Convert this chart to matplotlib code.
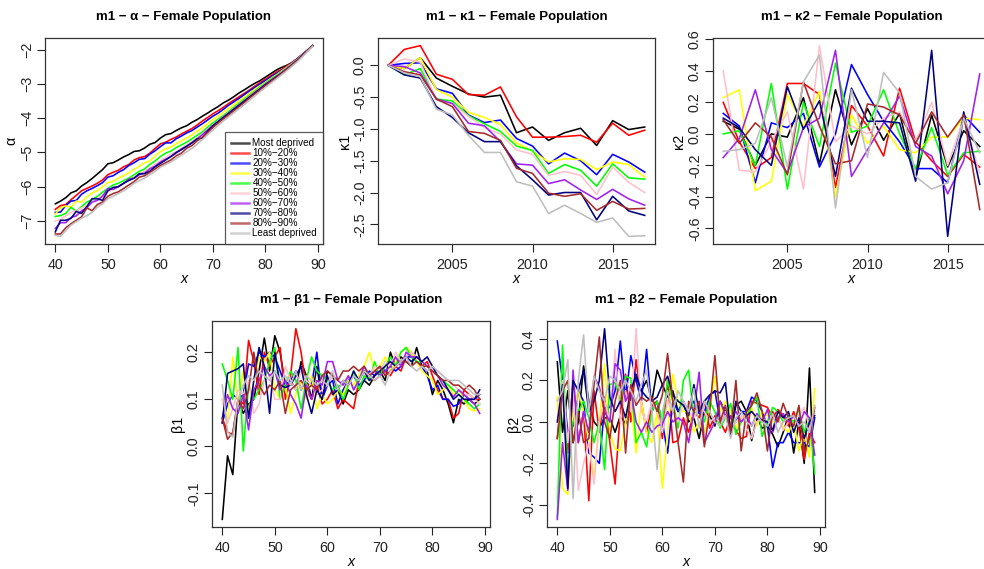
import matplotlib
matplotlib.use("Agg")
import matplotlib.pyplot as plt
from matplotlib.ticker import FormatStrFormatter
from matplotlib.lines import Line2D

plt.rcParams["font.family"] = ["Liberation Sans", "DejaVu Sans"]
plt.rcParams["axes.unicode_minus"] = True

# dati
eta = list(range(40, 90))
anni = list(range(2001, 2018))

gruppi = ["Most deprived", "10%−20%", "20%−30%", "30%−40%", "40%−50%",
          "50%−60%", "60%−70%", "70%−80%", "80%−90%", "Least deprived"]
colori = ["black", "#FF0000", "#0000FF", "#FFFF00", "#00FF00",
          "#FFC0CB", "#A020F0", "#000080", "#A52A2A", "#BEBEBE"]

alpha_most = [-6.50, -6.42, -6.32, -6.18, -6.12, -5.98, -5.88, -5.76, -5.63, -5.50,
              -5.33, -5.30, -5.22, -5.13, -5.06, -4.97, -4.95, -4.87, -4.76, -4.71,
              -4.58, -4.48, -4.45, -4.36, -4.28, -4.22, -4.12, -4.04, -3.94, -3.85,
              -3.75, -3.66, -3.55, -3.47, -3.37, -3.26, -3.17, -3.07, -2.98, -2.90,
              -2.80, -2.70, -2.60, -2.52, -2.46, -2.38, -2.27, -2.14, -2.01, -1.88]
alpha_10 = [-6.66, -6.55, -6.52, -6.38, -6.25, -6.12, -6.05, -5.98, -5.90, -5.80,
            -5.65, -5.58, -5.52, -5.42, -5.35, -5.22, -5.15, -5.12, -5.02, -4.88,
            -4.75, -4.70, -4.62, -4.55, -4.46, -4.38, -4.30, -4.20, -4.08, -3.98,
            -3.87, -3.78, -3.68, -3.57, -3.47, -3.37, -3.27, -3.17, -3.06, -2.96,
            -2.86, -2.76, -2.66, -2.58, -2.48, -2.38, -2.27, -2.14, -2.01, -1.88]
alpha_20 = [-6.75, -6.74, -6.55, -6.42, -6.40, -6.22, -6.12, -6.05, -5.97, -5.88,
            -5.72, -5.68, -5.58, -5.50, -5.38, -5.30, -5.20, -5.18, -5.05, -4.95,
            -4.83, -4.72, -4.72, -4.60, -4.52, -4.43, -4.36, -4.26, -4.16, -4.05,
            -3.94, -3.85, -3.74, -3.62, -3.52, -3.42, -3.31, -3.20, -3.10, -3.00,
            -2.90, -2.80, -2.70, -2.61, -2.51, -2.40, -2.28, -2.15, -2.02, -1.88]
alpha_30 = [-6.80, -6.62, -6.56, -6.60, -6.42, -6.45, -6.30, -6.18, -6.12, -6.00,
            -5.88, -5.85, -5.75, -5.68, -5.60, -5.50, -5.40, -5.30, -5.25, -5.10,
            -4.98, -4.90, -4.84, -4.75, -4.66, -4.58, -4.49, -4.38, -4.28, -4.16,
            -4.04, -3.94, -3.82, -3.71, -3.60, -3.49, -3.38, -3.27, -3.15, -3.05,
            -2.95, -2.84, -2.74, -2.63, -2.52, -2.41, -2.29, -2.16, -2.02, -1.88]
alpha_40 = [-6.87, -6.84, -6.78, -6.60, -6.72, -6.58, -6.45, -6.38, -6.28, -6.16,
            -6.05, -5.95, -5.90, -5.82, -5.75, -5.65, -5.55, -5.48, -5.35, -5.25,
            -5.12, -5.02, -4.96, -4.86, -4.78, -4.70, -4.60, -4.50, -4.40, -4.26,
            -4.14, -4.03, -3.92, -3.80, -3.68, -3.56, -3.44, -3.32, -3.20, -3.08,
            -2.97, -2.86, -2.76, -2.65, -2.54, -2.42, -2.30, -2.17, -2.02, -1.88]
alpha_50 = [-7.00, -6.95, -6.85, -6.75, -6.70, -6.62, -6.55, -6.45, -6.35, -6.25,
            -6.14, -6.08, -5.98, -5.92, -5.80, -5.72, -5.62, -5.55, -5.45, -5.35,
            -5.25, -5.15, -5.05, -4.98, -4.88, -4.78, -4.68, -4.58, -4.46, -4.32,
            -4.20, -4.08, -3.96, -3.84, -3.72, -3.60, -3.48, -3.35, -3.23, -3.11,
            -3.00, -2.89, -2.78, -2.67, -2.55, -2.43, -2.31, -2.17, -2.03, -1.88]
alpha_60 = [-7.22, -7.05, -7.05, -6.90, -6.85, -6.70, -6.62, -6.45, -6.40, -6.28,
            -6.05, -6.08, -6.00, -5.90, -5.78, -5.75, -5.65, -5.60, -5.48, -5.40,
            -5.28, -5.20, -5.12, -5.02, -4.90, -4.82, -4.72, -4.60, -4.48, -4.34,
            -4.21, -4.09, -3.97, -3.85, -3.73, -3.61, -3.49, -3.37, -3.25, -3.13,
            -3.01, -2.90, -2.79, -2.68, -2.56, -2.44, -2.31, -2.17, -2.03, -1.88]
alpha_70 = [-7.32, -6.98, -6.98, -6.92, -6.72, -6.78, -6.58, -6.35, -6.35, -6.40,
            -6.12, -6.02, -6.00, -5.90, -5.82, -5.75, -5.62, -5.62, -5.55, -5.42,
            -5.32, -5.22, -5.12, -5.00, -4.92, -4.82, -4.72, -4.60, -4.58, -4.38,
            -4.22, -4.10, -3.98, -3.86, -3.74, -3.62, -3.50, -3.38, -3.26, -3.14,
            -3.02, -2.91, -2.80, -2.69, -2.57, -2.45, -2.32, -2.18, -2.03, -1.88]
alpha_80 = [-7.38, -7.38, -7.20, -7.08, -6.98, -6.88, -6.62, -6.70, -6.52, -6.45,
            -6.28, -6.20, -6.15, -6.05, -5.95, -5.85, -5.72, -5.68, -5.58, -5.48,
            -5.38, -5.30, -5.22, -5.10, -5.02, -4.88, -4.80, -4.66, -4.55, -4.42,
            -4.27, -4.14, -4.02, -3.90, -3.78, -3.66, -3.54, -3.41, -3.29, -3.17,
            -3.05, -2.93, -2.82, -2.70, -2.58, -2.46, -2.33, -2.19, -2.04, -1.88]
alpha_least = [-7.42, -7.45, -7.28, -7.12, -7.02, -6.92, -6.85, -6.75, -6.60, -6.50,
               -6.35, -6.28, -6.20, -6.12, -6.02, -5.90, -5.82, -5.75, -5.65, -5.55,
               -5.43, -5.35, -5.28, -5.18, -5.08, -4.98, -4.88, -4.76, -4.62, -4.48,
               -4.34, -4.21, -4.08, -3.96, -3.84, -3.72, -3.60, -3.47, -3.35, -3.22,
               -3.10, -2.98, -2.86, -2.74, -2.62, -2.49, -2.36, -2.21, -2.05, -1.90]

kappa1_most = [0.0, -0.05, 0.12, -0.20, -0.33, -0.45, -0.50, -0.47, -1.06, -0.97,
               -1.18, -1.06, -0.99, -1.26, -0.87, -1.01, -0.97]
kappa1_10 = [0.0, 0.25, 0.31, -0.14, -0.22, -0.46, -0.47, -0.34, -0.81, -1.13,
             -1.13, -1.12, -1.10, -1.21, -0.91, -1.10, -1.02]
kappa1_20 = [0.0, 0.03, 0.04, -0.37, -0.44, -0.78, -0.90, -0.86, -1.15, -1.27,
             -1.55, -1.38, -1.50, -1.72, -1.40, -1.52, -1.68]
kappa1_30 = [0.0, -0.05, 0.12, -0.38, -0.50, -0.74, -0.82, -0.93, -1.22, -1.35,
             -1.52, -1.47, -1.48, -1.64, -1.52, -1.56, -1.76]
kappa1_40 = [0.0, -0.15, -0.05, -0.53, -0.56, -0.79, -0.92, -1.04, -1.27, -1.34,
             -1.70, -1.56, -1.65, -1.90, -1.55, -1.77, -1.79]
kappa1_50 = [0.0, 0.10, 0.05, -0.55, -0.60, -0.80, -0.98, -1.08, -1.33, -1.40,
             -1.73, -1.67, -1.73, -2.03, -1.60, -1.84, -2.00]
kappa1_60 = [0.0, -0.02, -0.12, -0.53, -0.60, -0.91, -0.95, -1.20, -1.55, -1.57,
             -1.86, -1.80, -1.96, -2.11, -1.95, -2.10, -2.20]
kappa1_70 = [0.0, -0.15, -0.20, -0.65, -0.82, -1.06, -1.20, -1.20, -1.58, -1.80,
             -2.04, -2.00, -2.00, -2.43, -2.06, -2.29, -2.36]
kappa1_80 = [0.0, -0.10, -0.15, -0.53, -0.65, -1.04, -1.07, -1.18, -1.62, -1.70,
             -2.01, -2.06, -2.02, -2.28, -2.14, -2.26, -2.25]
kappa1_least = [0.0, -0.12, -0.18, -0.69, -0.78, -1.10, -1.37, -1.37, -1.83, -1.90,
                -2.33, -2.20, -2.33, -2.47, -2.40, -2.69, -2.68]

kappa2_most = [0.08, 0.03, -0.20, 0.00, -0.02, 0.23, -0.19, 0.28, -0.07, 0.16,
               -0.04, 0.13, -0.28, 0.12, -0.21, 0.02, -0.08]
kappa2_10 = [0.20, -0.05, -0.22, -0.15, 0.32, 0.32, 0.25, -0.34, 0.18, 0.05,
             -0.14, 0.29, -0.05, -0.17, -0.27, -0.13, -0.21]
kappa2_20 = [0.13, 0.05, -0.31, 0.07, 0.04, 0.13, -0.21, 0.00, 0.44, 0.25,
             0.08, -0.05, -0.22, -0.22, -0.31, 0.12, 0.01]
kappa2_30 = [0.23, 0.28, -0.36, -0.30, 0.25, 0.05, 0.27, -0.40, 0.12, -0.06,
             0.05, -0.10, -0.12, -0.02, -0.02, 0.10, 0.09]
kappa2_40 = [0.00, 0.02, -0.20, 0.32, -0.35, 0.20, -0.08, 0.45, 0.01, 0.05,
             0.28, 0.00, -0.22, 0.04, -0.26, -0.12, -0.11]
kappa2_50 = [0.40, -0.23, -0.24, -0.05, 0.14, -0.35, 0.56, -0.05, 0.05, 0.00,
             0.10, 0.14, -0.05, 0.20, -0.20, 0.10, -0.25]
kappa2_60 = [-0.15, -0.03, 0.28, -0.10, -0.25, 0.04, 0.10, 0.53, -0.27, -0.10,
             0.07, 0.24, -0.08, -0.14, -0.38, -0.17, 0.38]
kappa2_70 = [0.10, 0.04, -0.10, -0.20, 0.30, 0.03, 0.21, -0.27, 0.29, 0.08,
             0.08, 0.07, -0.30, 0.53, -0.65, 0.14, -0.32]
kappa2_80 = [0.09, -0.06, 0.07, -0.02, -0.26, 0.33, 0.05, -0.19, -0.17, 0.19,
             0.17, 0.12, -0.06, 0.14, -0.02, 0.12, -0.48]
kappa2_least = [-0.11, -0.10, -0.06, 0.23, -0.21, 0.33, 0.50, -0.47, 0.28, -0.15,
                0.39, 0.26, -0.27, -0.35, -0.31, 0.10, -0.12]

beta1_most = [-0.155, -0.02, -0.06, 0.10, 0.07, 0.09, 0.10, 0.16, 0.23, 0.16,
              0.235, 0.20, 0.13, 0.14, 0.12, 0.18, 0.15, 0.10, 0.17, 0.10,
              0.16, 0.15, 0.12, 0.09, 0.12, 0.11, 0.12, 0.14, 0.13, 0.15,
              0.16, 0.14, 0.20, 0.17, 0.19, 0.18, 0.17, 0.21, 0.17, 0.16,
              0.11, 0.14, 0.12, 0.09, 0.05, 0.10, 0.09, 0.10, 0.09, 0.10]
beta1_10 = [0.06, 0.03, 0.025, 0.10, 0.09, 0.225, 0.18, 0.11, 0.20, 0.17,
            0.19, 0.21, 0.10, 0.15, 0.25, 0.20, 0.12, 0.10, 0.13, 0.09,
            0.10, 0.12, 0.08, 0.10, 0.09, 0.08, 0.14, 0.16, 0.15, 0.14,
            0.15, 0.16, 0.15, 0.17, 0.16, 0.19, 0.20, 0.18, 0.17, 0.18,
            0.15, 0.12, 0.10, 0.10, 0.06, 0.07, 0.12, 0.11, 0.10, 0.10]
beta1_20 = [0.05, 0.09, 0.11, 0.10, 0.11, 0.175, 0.17, 0.20, 0.19, 0.20,
            0.19, 0.16, 0.13, 0.14, 0.16, 0.12, 0.14, 0.13, 0.20, 0.10,
            0.13, 0.14, 0.09, 0.12, 0.14, 0.15, 0.13, 0.14, 0.16, 0.15,
            0.17, 0.16, 0.17, 0.16, 0.17, 0.19, 0.19, 0.18, 0.17, 0.15,
            0.12, 0.13, 0.10, 0.10, 0.085, 0.09, 0.11, 0.10, 0.10, 0.11]
beta1_30 = [0.10, 0.05, 0.19, 0.09, 0.16, 0.07, 0.14, 0.19, 0.18, 0.20,
            0.12, 0.10, 0.13, 0.07, 0.11, 0.14, 0.10, 0.15, 0.08, 0.11,
            0.09, 0.10, 0.12, 0.11, 0.14, 0.13, 0.15, 0.17, 0.20, 0.16,
            0.17, 0.19, 0.16, 0.18, 0.20, 0.21, 0.20, 0.18, 0.16, 0.15,
            0.14, 0.11, 0.12, 0.13, 0.11, 0.12, 0.10, 0.08, 0.075, 0.08]
beta1_40 = [0.175, 0.14, 0.10, 0.21, -0.01, 0.13, 0.10, 0.12, 0.14, 0.18,
            0.21, 0.10, 0.13, 0.16, 0.14, 0.08, 0.14, 0.19, 0.16, 0.15,
            0.14, 0.12, 0.13, 0.10, 0.13, 0.16, 0.12, 0.15, 0.14, 0.18,
            0.15, 0.17, 0.19, 0.17, 0.20, 0.21, 0.19, 0.18, 0.18, 0.17,
            0.16, 0.15, 0.14, 0.13, 0.12, 0.11, 0.10, 0.09, 0.08, 0.09]
beta1_50 = [0.10, 0.05, 0.08, 0.12, 0.11, 0.14, 0.07, 0.09, 0.14, 0.15,
            0.10, 0.10, 0.17, 0.14, 0.12, 0.16, 0.14, 0.13, 0.11, 0.12,
            0.13, 0.15, 0.14, 0.13, 0.15, 0.12, 0.14, 0.16, 0.15, 0.17,
            0.16, 0.18, 0.17, 0.20, 0.18, 0.19, 0.20, 0.19, 0.18, 0.19,
            0.17, 0.16, 0.15, 0.14, 0.13, 0.12, 0.11, 0.11, 0.10, 0.09]
beta1_60 = [0.06, 0.11, 0.08, 0.07, 0.11, 0.035, 0.12, 0.14, 0.17, 0.15,
            0.16, 0.12, 0.14, 0.11, 0.09, 0.06, 0.13, 0.10, 0.14, 0.13,
            0.18, 0.18, 0.14, 0.13, 0.15, 0.12, 0.14, 0.17, 0.15, 0.16,
            0.15, 0.16, 0.17, 0.19, 0.17, 0.20, 0.19, 0.19, 0.18, 0.17,
            0.16, 0.15, 0.13, 0.12, 0.105, 0.12, 0.11, 0.10, 0.09, 0.07]
beta1_70 = [0.05, 0.155, 0.16, 0.165, 0.175, 0.06, 0.14, 0.21, 0.17, 0.07,
            0.20, 0.13, 0.125, 0.13, 0.15, 0.17, 0.11, 0.07, 0.12, 0.10,
            0.15, 0.11, 0.12, 0.14, 0.13, 0.16, 0.14, 0.16, 0.14, 0.15,
            0.16, 0.17, 0.18, 0.17, 0.18, 0.19, 0.18, 0.19, 0.18, 0.19,
            0.17, 0.15, 0.14, 0.12, 0.10, 0.11, 0.10, 0.10, 0.10, 0.12]
beta1_80 = [0.06, 0.015, 0.03, 0.10, 0.08, 0.12, 0.20, 0.13, 0.11, 0.13,
            0.12, 0.14, 0.07, 0.12, 0.13, 0.14, 0.12, 0.13, 0.12, 0.15,
            0.16, 0.15, 0.14, 0.16, 0.16, 0.17, 0.16, 0.17, 0.15, 0.16,
            0.17, 0.15, 0.16, 0.17, 0.18, 0.18, 0.17, 0.18, 0.17, 0.17,
            0.16, 0.15, 0.14, 0.14, 0.13, 0.13, 0.12, 0.13, 0.12, 0.10]
beta1_least = [0.13, 0.03, 0.02, 0.10, 0.13, 0.15, 0.14, 0.16, 0.15, 0.14,
               0.16, 0.14, 0.15, 0.13, 0.16, 0.12, 0.15, 0.14, 0.13, 0.14,
               0.13, 0.16, 0.12, 0.14, 0.13, 0.15, 0.14, 0.16, 0.15, 0.14,
               0.15, 0.13, 0.16, 0.17, 0.18, 0.19, 0.17, 0.16, 0.17, 0.16,
               0.17, 0.16, 0.15, 0.14, 0.14, 0.14, 0.13, 0.12, 0.11, 0.11]

beta2_most = [0.29, -0.05, 0.15, -0.10, 0.00, 0.27, 0.10, 0.00, -0.03, 0.02,
              0.02, -0.05, 0.03, -0.01, 0.12, 0.22, 0.15, 0.20, 0.10, 0.25,
              0.18, 0.12, 0.15, 0.05, 0.10, 0.00, 0.02, -0.08, 0.05, 0.03,
              -0.02, 0.10, 0.05, -0.06, 0.08, 0.10, 0.05, -0.09, 0.02, -0.03,
              -0.02, -0.06, -0.12, -0.05, 0.03, -0.15, 0.00, -0.20, 0.26, -0.34]
beta2_10 = [-0.08, 0.20, -0.15, 0.20, -0.10, 0.05, -0.38, 0.15, -0.05, 0.12,
            -0.10, -0.30, 0.05, 0.23, 0.00, 0.30, 0.10, -0.05, 0.08, 0.10,
            -0.08, 0.20, -0.10, -0.09, 0.02, -0.05, 0.05, 0.02, 0.10, -0.03,
            0.03, 0.00, -0.05, 0.03, -0.04, -0.08, -0.07, 0.10, 0.09, 0.08,
            0.07, 0.02, 0.06, 0.03, -0.02, 0.05, -0.03, -0.18, -0.05, -0.10]
beta2_20 = [0.39, 0.20, -0.05, -0.02, 0.15, 0.10, -0.15, -0.17, -0.20, 0.07,
            0.07, 0.15, 0.39, 0.12, 0.32, 0.20, 0.10, 0.35, 0.05, 0.10,
            0.00, -0.15, 0.10, 0.05, 0.10, 0.05, 0.10, 0.04, 0.05, 0.12,
            0.15, 0.00, 0.05, -0.02, 0.00, 0.05, 0.05, 0.12, 0.10, 0.05,
            -0.02, -0.22, -0.10, -0.10, -0.05, -0.10, -0.10, -0.10, -0.12, 0.02]
beta2_30 = [0.12, -0.32, -0.35, 0.05, 0.15, 0.05, -0.10, -0.27, 0.00, 0.28,
            -0.05, -0.13, -0.14, 0.00, 0.10, -0.15, 0.10, -0.05, -0.10, 0.05,
            -0.32, -0.05, 0.23, 0.10, 0.05, 0.05, -0.05, 0.00, -0.05, 0.05,
            0.22, 0.05, 0.10, 0.05, -0.03, 0.02, 0.03, 0.07, -0.02, 0.05,
            0.03, 0.00, 0.01, -0.02, -0.05, 0.00, -0.14, -0.05, -0.17, 0.16]
beta2_40 = [-0.46, 0.37, -0.25, 0.00, 0.05, 0.10, 0.02, -0.10, 0.00, -0.23,
            0.18, 0.19, 0.10, 0.22, 0.21, -0.10, -0.05, -0.12, 0.05, 0.10,
            0.00, 0.20, 0.10, -0.03, 0.20, 0.25, 0.02, 0.08, 0.00, 0.10,
            0.05, -0.03, 0.02, 0.09, -0.06, 0.00, 0.02, 0.08, 0.12, -0.07,
            0.00, 0.07, 0.05, 0.00, 0.03, 0.00, 0.06, -0.05, 0.02, -0.25]
beta2_50 = [0.00, 0.20, -0.10, 0.15, -0.33, -0.20, -0.10, -0.30, 0.00, 0.10,
            0.00, 0.35, 0.00, 0.15, 0.05, 0.45, 0.05, 0.00, 0.10, 0.05,
            -0.05, 0.10, 0.05, 0.00, 0.10, 0.05, 0.02, 0.07, 0.05, 0.00,
            0.02, 0.00, 0.05, -0.02, 0.00, 0.03, -0.03, -0.08, 0.00, 0.02,
            0.00, 0.01, 0.03, -0.04, 0.00, 0.02, 0.03, 0.07, -0.03, 0.05]
beta2_60 = [-0.47, -0.10, -0.33, 0.25, -0.10, 0.05, -0.05, 0.22, 0.17, 0.05,
            0.00, 0.28, 0.25, 0.10, 0.15, 0.00, -0.05, 0.00, -0.05, -0.02,
            -0.01, 0.05, 0.00, 0.02, 0.00, -0.10, 0.05, 0.24, -0.10, -0.05,
            0.00, 0.10, 0.03, 0.02, 0.05, 0.00, 0.03, -0.02, 0.04, 0.00,
            0.06, -0.05, 0.02, 0.04, 0.00, 0.03, -0.02, 0.05, 0.02, -0.16]
beta2_70 = [0.00, 0.18, -0.32, 0.20, 0.15, 0.25, 0.05, 0.10, 0.20, 0.45,
            0.12, 0.05, 0.10, 0.02, 0.15, 0.23, 0.15, 0.12, 0.10, 0.12,
            0.18, 0.22, 0.13, 0.10, 0.08, 0.03, 0.18, 0.05, 0.10, 0.13,
            0.15, 0.14, 0.19, -0.05, 0.10, 0.05, 0.03, 0.05, 0.02, 0.01,
            0.00, -0.04, 0.05, 0.02, 0.05, -0.05, 0.02, -0.08, 0.00, 0.03]
beta2_80 = [-0.08, 0.15, 0.20, -0.10, 0.05, -0.10, -0.08, 0.18, 0.41, 0.00,
            -0.08, 0.10, 0.20, -0.15, 0.18, 0.08, 0.12, 0.10, 0.12, 0.05,
            0.13, 0.33, 0.10, -0.10, -0.29, 0.10, 0.05, 0.10, -0.12, 0.05,
            0.32, 0.00, 0.08, -0.05, 0.20, -0.14, 0.05, 0.08, 0.14, 0.05,
            -0.14, 0.05, 0.00, 0.09, 0.02, -0.02, 0.08, -0.15, -0.08, 0.07]
beta2_least = [0.10, 0.15, 0.30, -0.37, 0.20, 0.42, 0.05, 0.22, 0.15, 0.10,
               0.22, 0.20, 0.15, 0.20, 0.15, 0.10, 0.18, 0.25, 0.05, -0.23,
               0.05, 0.15, 0.05, 0.15, 0.10, 0.05, 0.16, -0.03, 0.10, 0.05,
               0.00, -0.02, 0.03, -0.08, 0.02, 0.05, 0.00, -0.02, 0.03, 0.00,
               -0.02, 0.04, -0.05, 0.00, 0.02, 0.03, -0.02, 0.00, -0.05, 0.08]

serie_alpha = [alpha_most, alpha_10, alpha_20, alpha_30, alpha_40,
               alpha_50, alpha_60, alpha_70, alpha_80, alpha_least]
serie_kappa1 = [kappa1_most, kappa1_10, kappa1_20, kappa1_30, kappa1_40,
                kappa1_50, kappa1_60, kappa1_70, kappa1_80, kappa1_least]
serie_kappa2 = [kappa2_most, kappa2_10, kappa2_20, kappa2_30, kappa2_40,
                kappa2_50, kappa2_60, kappa2_70, kappa2_80, kappa2_least]
serie_beta1 = [beta1_most, beta1_10, beta1_20, beta1_30, beta1_40,
               beta1_50, beta1_60, beta1_70, beta1_80, beta1_least]
serie_beta2 = [beta2_most, beta2_10, beta2_20, beta2_30, beta2_40,
               beta2_50, beta2_60, beta2_70, beta2_80, beta2_least]

W, H = 984, 569
fig = plt.figure(figsize=(W / 100, H / 100), dpi=100)


def pannello(left, top, right, bottom, x, serie, titolo, etich_y, yticks, xticks, fmt=None):
    ax = fig.add_axes([left / W, 1 - bottom / H, (right - left) / W, (bottom - top) / H])
    for valori, colore in zip(serie, colori):
        ax.plot(x, valori, color=colore, lw=1.15)
    ax.margins(x=0.04, y=0.04)
    ax.set_xticks(xticks)
    ax.set_yticks(yticks)
    if fmt:
        ax.yaxis.set_major_formatter(FormatStrFormatter(fmt))
    ax.tick_params(direction="out", length=6, width=0.8, labelsize=10.3, colors="#222222")
    ax.tick_params(axis="x", pad=4)
    ax.tick_params(axis="y", labelrotation=90, pad=2)
    for lab in ax.get_yticklabels():
        lab.set_va("center")
    for sp in ax.spines.values():
        sp.set_linewidth(0.9)
        sp.set_color("#333333")
    ax.set_title(titolo, fontsize=9.5, fontweight="bold", pad=13)
    ax.set_xlabel("x", fontsize=10.3, style="italic", labelpad=0)
    ax.set_ylabel(etich_y, fontsize=10.3, labelpad=1)
    return ax


ax1 = pannello(45, 38, 323, 244, eta, serie_alpha, "m1 − α − Female Population", "α",
               [-7, -6, -5, -4, -3, -2], [40, 50, 60, 70, 80, 90])
maniglie = [Line2D([0], [0], color=c, lw=1.8, alpha=0.7) for c in colori]
leg = ax1.legend(maniglie, gruppi, loc="lower right", fontsize=7.1, frameon=True, fancybox=False,
                 borderaxespad=0, handlelength=1.85, handletextpad=0.3, labelspacing=0.0,
                 borderpad=0.6)
leg.get_frame().set_edgecolor("#333333")
leg.get_frame().set_linewidth(0.9)

pannello(378, 38, 655, 244, anni, serie_kappa1, "m1 − κ1 − Female Population", "κ1",
         [-2.5, -2.0, -1.5, -1.0, -0.5, 0.0], [2005, 2010, 2015], "%.1f")
pannello(713, 38, 990, 244, anni, serie_kappa2, "m1 − κ2 − Female Population", "κ2",
         [-0.6, -0.4, -0.2, 0.0, 0.2, 0.4, 0.6], [2005, 2010, 2015], "%.1f")
pannello(212, 321, 490, 527, eta, serie_beta1, "m1 − β1 − Female Population", "β1",
         [-0.1, 0.0, 0.1, 0.2], [40, 50, 60, 70, 80, 90], "%.1f")
pannello(547, 321, 825, 527, eta, serie_beta2, "m1 − β2 − Female Population", "β2",
         [-0.4, -0.2, 0.0, 0.2, 0.4], [40, 50, 60, 70, 80, 90], "%.1f")

fig.savefig("out.png", dpi=100)
